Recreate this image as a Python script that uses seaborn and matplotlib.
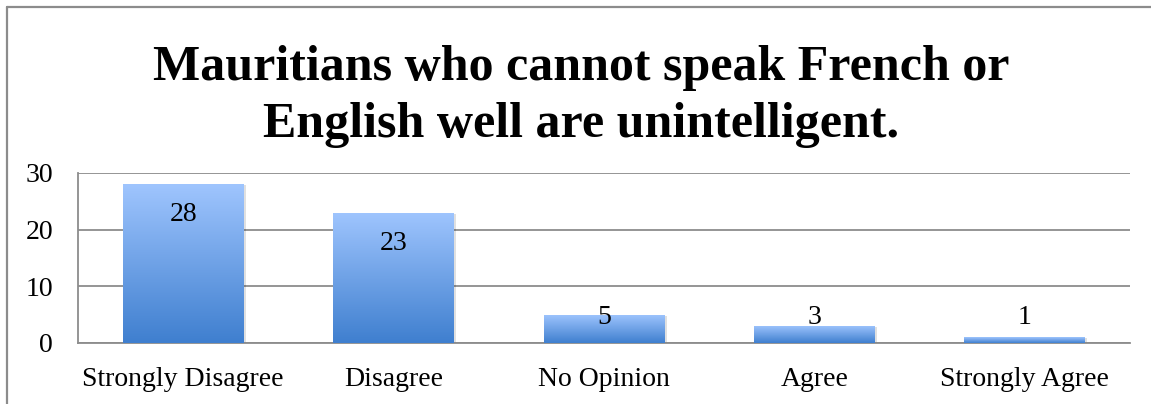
import numpy as np
import matplotlib
matplotlib.use("Agg")
import matplotlib.pyplot as plt
import seaborn as sns
from matplotlib.colors import LinearSegmentedColormap
from matplotlib.lines import Line2D

# data
categories = ["Strongly Disagree", "Disagree", "No Opinion", "Agree", "Strongly Agree"]
counts = [28, 23, 5, 3, 1]
y_ticks = [0, 10, 20, 30]
title = "Mauritians who cannot speak French or\nEnglish well are unintelligent."

sns.set_theme(style="white")
plt.rcParams["font.family"] = ["Liberation Serif", "DejaVu Serif"]
plt.rcParams["text.color"] = "black"

fig = plt.figure(figsize=(11.51, 4.04), dpi=100)
ax = fig.add_axes([78 / 1151, 1 - 343 / 404, (1130 - 78) / 1151, (343 - 173) / 404])

sns.barplot(x=categories, y=counts, width=0.575, color="#6fa0e6",
            saturation=1, linewidth=0, ax=ax, zorder=3)

# vertical gradient inside each bar: light top, darker bottom
grad_cmap = LinearSegmentedColormap.from_list("bar", ["#3f7fcf", "#9fc5fe"])
grad = np.linspace(0, 1, 256).reshape(-1, 1)
for p in ax.patches:
    x0, y0 = p.get_x(), p.get_y()
    w, h = p.get_width(), p.get_height()
    # soft shadow
    ax.add_patch(plt.Rectangle((x0 + 0.01, y0), w, h - 0.15, facecolor="#000000",
                               alpha=0.12, edgecolor="none", zorder=2))
    img = ax.imshow(grad, cmap=grad_cmap, origin="lower", aspect="auto",
                    extent=[x0, x0 + w, y0, y0 + h], zorder=4)
    img.set_clip_path(p)

ax.set_xlim(-0.5, len(categories) - 0.5)
ax.set_ylim(0, 30)
ax.set_yticks(y_ticks)
ax.yaxis.grid(True, color="#8c8c8c", linewidth=1.3, zorder=0)
ax.set_axisbelow(True)

for s in ["top", "right"]:
    ax.spines[s].set_visible(False)
for s in ["left", "bottom"]:
    ax.spines[s].set_color("#8c8c8c")
    ax.spines[s].set_linewidth(1.3)

ax.tick_params(axis="both", length=0, labelsize=20, colors="black")
ax.tick_params(axis="y", pad=18)
ax.tick_params(axis="x", pad=17)
ax.set_xlabel("")
ax.set_ylabel("")

# data labels: inside end, but never lower than the baseline area
for i, v in enumerate(counts):
    ax.text(i, max(v - 5.4, 4.5), str(v), ha="center", va="center",
            fontsize=20, color="black", zorder=6)

fig.text(0.505, 0.762, title, ha="center", va="center", fontsize=36,
         fontweight="bold", linespacing=1.31, color="black")

# outer chart frame (top and left edges visible)
fig.add_artist(Line2D([6.5 / 1151, 1], [1 - 6.5 / 404] * 2, color="#8c8c8c", lw=1.6))
fig.add_artist(Line2D([6.5 / 1151] * 2, [0, 1 - 6.5 / 404], color="#8c8c8c", lw=1.6))

fig.savefig("out.png", dpi=100)
